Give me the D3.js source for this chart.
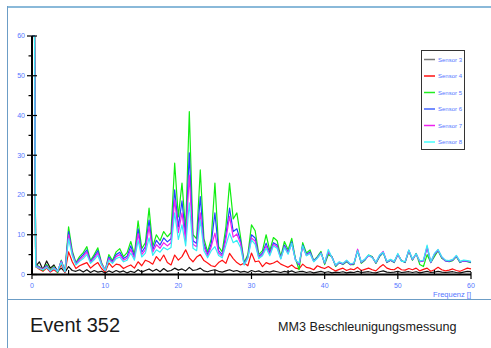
<!DOCTYPE html>
<html><head><meta charset="utf-8">
<script src="https://cdn.jsdelivr.net/npm/d3@7"></script>
<style>
html,body{margin:0;padding:0;background:#fff;}
svg{display:block;font-family:"Liberation Sans",Arial,Helvetica,sans-serif;}
</style></head>
<body>
<svg id="c" width="491" height="348"></svg>
<script>
// frequency grid (Hz)
const freqHead = [0, 0.35];
const freqs = freqHead.concat(d3.range(0.5, 60.001, 0.5));

const seriesNames = ["Sensor 3","Sensor 4","Sensor 5","Sensor 6","Sensor 7","Sensor 8"];

const sensor3 = [60,60,
 2,3.2,1.2,3.4,1.6,2.4,0.8,1.6,0.6,2,
 1,0.8,1.2,0.6,1.2,0.5,1,0.6,0.8,0.4,
 0.9,0.5,1,0.6,0.9,0.4,0.8,0.5,1.2,0.6,
 1,1.4,0.8,1.3,0.7,1.5,0.8,1,1.6,1.1,
 1.4,0.9,1.8,1,1.2,1.6,0.9,0.7,1,1.2,
 0.8,0.6,0.9,1.2,0.8,1,0.6,0.8,0.5,1,
 0.7,0.9,0.5,0.8,0.6,0.9,0.7,0.5,0.8,0.6,
 0.9,0.5,0.7,0.8,0.5,0.7,0.4,0.6,0.8,0.5,
 0.7,0.4,0.6,0.5,0.7,0.4,0.6,0.5,0.8,0.5,
 0.6,0.7,0.5,0.4,0.7,0.9,0.6,0.5,0.6,0.8,
 0.5,0.6,0.7,0.5,0.7,0.4,0.6,0.8,0.5,0.6,
 0.8,0.6,0.5,0.6,0.7,0.5,0.4,0.6,0.8,0.7];

const sensor4 = [60,60,
 2,1.3,0.8,1.6,0.6,1.2,0.5,2.5,0.5,5.7,
 3.2,1.5,2.2,2.6,3,1.6,2.4,3,1.5,0.6,
 2.9,1.8,2.6,2.4,1.5,2,2.4,1.6,3.2,2.2,
 3.6,3.2,2.6,4.5,3.4,4.9,3,2.4,4.9,3.6,
 4.5,6.2,4.2,3.2,4.4,5,3.5,2.9,2.2,2,
 3,3.6,2.8,5.3,4,3,2.4,2.9,2.2,5.4,
 3.2,3.4,2,3,2.6,2.9,3.4,2.6,2.2,1.8,
 2.4,1.6,1.4,2.6,1.8,1.6,1.2,2.2,1.8,1.5,
 2,1.4,0.9,1.3,1.6,1,1.4,1.2,1.8,1,
 1.3,1.6,1.2,0.9,1.8,2.5,1.6,1.3,1.2,1.8,
 1.2,1.1,1.5,1.2,1.6,0.9,1.3,1.6,0.8,1.2,
 1.8,1.2,0.9,1.1,1.4,1,0.8,1.2,1.6,1.4];

const sensor5 = [60,60,
 2.5,2,1,2.5,1,2,0.5,3.6,0.8,12,
 6,3,4.5,5.5,7,3.5,5,6.7,3,1,
 5,3.5,5.7,6.5,4.5,5.5,8.3,5,13.5,6.5,
 8,16.7,7,10,8.5,10.8,9.5,10.5,28,14.5,
 23,11,41,10,9,26.3,9,5.7,9,23,
 7,5.7,12,23,14,15.5,9.5,3,5,12.5,
 11,5,6,10,6,9.3,8.5,4.5,8.3,6.2,
 9.1,4,1.2,8,5.4,6.2,3.5,4.5,5.8,2.5,
 5,4.5,2,3,2.5,3.2,2.5,2.5,6.2,2.8,
 3.6,4.9,4.5,2.8,4.5,5.5,3,3.6,3,5,
 3.5,3,5.9,3.6,5.3,2.5,2,5,3,4.5,
 6,4.1,3.5,3.2,3.5,4.5,3,3.5,3.2,3];

const sensor6 = [60,60,
 2.3,1.8,1.2,2.2,0.8,1.8,0.7,3.4,0.8,10.8,
 5.5,2.8,4,5,6.2,3.2,4.5,6,2.7,1,
 4.4,3.2,5,5.6,4,4.6,7.2,4.4,11.5,5.6,
 7,13.7,6.2,8.6,7.4,9.2,8.2,9,21.3,12,
 18.5,9.5,30.6,8.5,7.8,19.6,7.8,5,7.8,15.5,
 6,5,10,16.7,10.8,11.5,8.5,2.7,4.5,10,
 9.2,4.5,5.4,7.9,5.4,8,7.4,4.2,7.4,5.6,
 8.2,3.8,2.4,7.4,5,5.7,3.4,4.3,5.5,2.8,
 5.6,4.4,2.2,3,2.6,3.4,2.5,2.7,6,3,
 3.7,4.8,4.4,2.9,4.6,5.6,3.1,3.6,3.1,5.1,
 3.4,3.1,6,3.7,5.2,3.2,3.4,6.8,3,5,
 6.1,4.3,3.4,3.3,3.6,4.6,3.1,3.4,3.3,3.1];

const sensor7 = [60,60,
 2.2,1.7,1.3,2,0.9,1.7,0.8,3.3,0.8,10,
 5.2,2.6,3.7,4.5,5.6,3,4.1,5.4,2.6,1.1,
 4,3,4.5,5,3.6,4.1,6.3,4,10.3,5,
 6.2,12,5.6,7.5,6.6,8,7.2,8,18.8,10.5,
 15.5,8.4,25,7.6,7,15.5,7,4.6,7,10.4,
 5.4,4.6,8.8,14.6,9.4,10.2,7.8,2.5,4.3,9.2,
 8.4,4.2,5,7.2,5,7.6,7,4,7,5.3,
 7.8,3.7,2.6,7,4.8,5.4,3.3,4.2,5.4,2.9,
 5.8,4.3,2.3,3.1,2.7,3.5,2.6,2.8,6.4,3.1,
 3.8,4.7,4.3,3,4.8,5.8,3.2,3.7,3.2,5,
 3.4,3.2,6.1,3.8,5.1,3.3,3.5,7,3.1,5.1,
 6.2,4.4,3.5,3.4,3.7,4.7,3.2,3.5,3.4,3.2];

const sensor8 = [60,60,
 2,1.5,1.2,1.8,0.9,1.6,0.8,3,0.7,9,
 4.8,2.4,3.3,4,5,2.8,3.7,4.8,2.4,1,
 3.6,2.8,4,4.4,3.2,3.6,5.4,3.6,8.6,4.4,
 5.4,9.2,4.8,6.2,5.6,6.8,6.2,6.8,15.5,8.8,
 12.5,7.2,18,6.6,6,13.7,6,4.2,6,7,
 4.8,4.2,7.4,10.4,8,8.6,6.8,2.4,4.1,8.7,
 7.6,4,4.7,6.6,4.7,7.2,6.6,3.9,6.8,5.1,
 7.9,3.6,2.9,7.2,4.7,5.2,3.2,4.1,5.3,3,
 6.3,4.2,2.4,3.2,2.8,3.6,2.7,2.9,6,3.2,
 3.9,4.9,4.2,3.1,4.9,5.6,3.3,3.8,3.3,5.3,
 3.3,3.3,6.2,3.9,5.2,3.4,3.6,7.4,3.2,5.3,
 6.3,4.5,3.6,3.5,3.8,4.8,3.3,3.6,3.5,3.3];

const yTicks = [0,10,20,30,40,50,60];
const xTicks = [0,10,20,30,40,50,60];
const xAxisTitle = "Frequenz []";
const titleLeft = "Event 352";
const titleRight = "MM3 Beschleunigungsmessung";

const allSeries = [sensor3, sensor4, sensor5, sensor6, sensor7, sensor8];
const lineColors = ["#111111","#ff1010","#11ee11","#2244ff","#ee22ee","#33eef5"];
const legendColors = ["#777777","#ff1010","#22ee22","#4466ff","#ee22ee","#44ffff"];

const svg = d3.select("#c");
const x = d3.scaleLinear().domain([0,60]).range([32,471]);
const y = d3.scaleLinear().domain([0,60]).range([274.5,36]);

// frame
svg.append("line").attr("x1",7).attr("x2",491).attr("y1",7).attr("y2",7)
  .attr("stroke","#8ab9d9").attr("stroke-width",2);
svg.append("line").attr("x1",7.5).attr("x2",7.5).attr("y1",6).attr("y2",348)
  .attr("stroke","#6c9dc6").attr("stroke-width",1);
svg.append("line").attr("x1",7).attr("x2",491).attr("y1",299.5).attr("y2",299.5)
  .attr("stroke","#6c9dc6").attr("stroke-width",1);

// series
const line = d3.line().x((d,i)=>x(freqs[i])).y(d=>y(d));
allSeries.forEach((s,k)=>{
  svg.append("path").datum(s).attr("d",line)
    .attr("fill","none").attr("stroke",lineColors[k])
    .attr("stroke-width",1.2).attr("stroke-linejoin","round");
});

// y axis
const gy = svg.append("g");
gy.append("line").attr("x1",x(0)).attr("x2",x(0)).attr("y1",y(60)).attr("y2",y(0))
  .attr("stroke","#000").attr("stroke-width",2);
gy.selectAll(".maj").data(yTicks).enter().append("line")
  .attr("x1",27).attr("x2",37).attr("y1",d=>y(d)).attr("y2",d=>y(d))
  .attr("stroke","#000").attr("stroke-width",1.2);
gy.selectAll(".min").data(yTicks.slice(0,-1).map(d=>d+5)).enter().append("line")
  .attr("x1",28.5).attr("x2",33).attr("y1",d=>y(d)).attr("y2",d=>y(d))
  .attr("stroke","#000").attr("stroke-width",1.2);
gy.selectAll("text").data(yTicks).enter().append("text")
  .attr("x",25).attr("y",d=>y(d)).attr("dy","0.35em")
  .attr("text-anchor","end").attr("font-size",7).attr("fill","#5577ff").text(d=>d);

// x axis
const gx = svg.append("g");
gx.append("line").attr("x1",x(0)).attr("x2",x(60)).attr("y1",y(0)).attr("y2",y(0))
  .attr("stroke","#000").attr("stroke-width",2);
gx.selectAll(".maj").data(xTicks).enter().append("line")
  .attr("x1",d=>x(d)).attr("x2",d=>x(d)).attr("y1",272).attr("y2",279)
  .attr("stroke","#000").attr("stroke-width",1.2);
gx.selectAll(".min").data(xTicks.slice(0,-1).map(d=>d+5)).enter().append("line")
  .attr("x1",d=>x(d)).attr("x2",d=>x(d)).attr("y1",270).attr("y2",275)
  .attr("stroke","#000").attr("stroke-width",1.2);
gx.selectAll("text").data(xTicks).enter().append("text")
  .attr("x",d=>x(d)).attr("y",288)
  .attr("text-anchor","middle").attr("font-size",7).attr("fill","#5577ff").text(d=>d);
svg.append("text").attr("x",471).attr("y",297).attr("text-anchor","end")
  .attr("font-size",7.5).attr("fill","#5577ff").text(xAxisTitle);

// legend
const lg = svg.append("g");
lg.append("rect").attr("x",421.5).attr("y",50.5).attr("width",43).attr("height",99)
  .attr("fill","#fff").attr("stroke","#333").attr("stroke-width",1);
seriesNames.forEach((n,i)=>{
  const yy = 59.5 + i*16.5;
  lg.append("line").attr("x1",424).attr("x2",435).attr("y1",yy).attr("y2",yy)
    .attr("stroke",legendColors[i]).attr("stroke-width",1.5);
  lg.append("text").attr("x",438).attr("y",yy).attr("dy","0.35em")
    .attr("font-size",6).attr("fill","#5577ff").text(n);
});

// footer titles
svg.append("text").attr("x",30).attr("y",331.5).attr("font-size",20)
  .attr("fill","#1a1a1a").text(titleLeft);
svg.append("text").attr("x",278).attr("y",331).attr("font-size",12.6)
  .attr("fill","#1a1a1a").text(titleRight);
</script>
</body></html>
